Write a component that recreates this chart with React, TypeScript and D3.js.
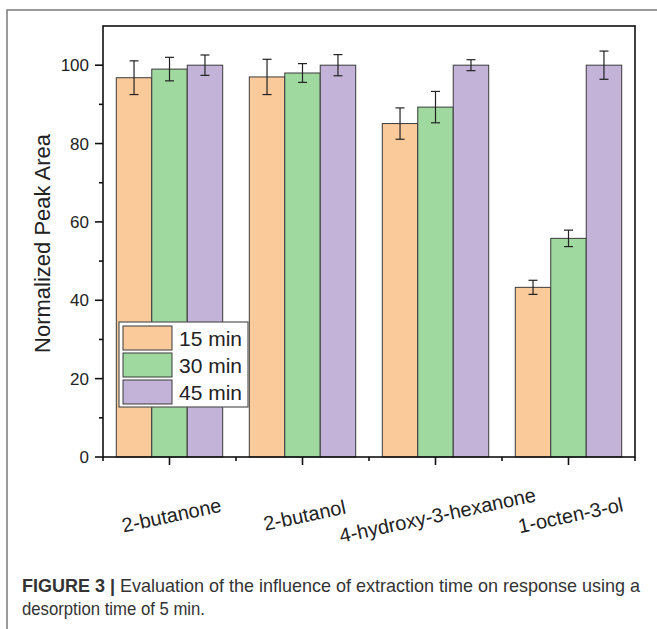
import * as d3 from "d3"

const compounds = ["2-butanone", "2-butanol", "4-hydroxy-3-hexanone", "1-octen-3-ol"]
const seriesNames = ["15 min", "30 min", "45 min"]
const min15 = [96.8, 97.0, 85.1, 43.3]
const min15Err = [4.3, 4.5, 4.0, 1.8]
const min30 = [99.0, 98.0, 89.3, 55.8]
const min30Err = [3.0, 2.4, 4.0, 2.1]
const min45 = [100, 100, 100, 100]
const min45Err = [2.6, 2.7, 1.4, 3.6]
const yTicks = [0, 20, 40, 60, 80, 100]
const yMinorTicks = [10, 30, 50, 70, 90]
const colors = ["#FBCA9B", "#A0D9A0", "#C3B3D8"]

const W = 657
const H = 629
const margin = { top: 26, right: 22, bottom: 172, left: 103 }

export default function App() {
  const x = d3
    .scaleLinear()
    .domain([0.5, compounds.length + 0.5])
    .range([margin.left, W - margin.right])
  const y = d3
    .scaleLinear()
    .domain([0, 110])
    .range([H - margin.bottom, margin.top])

  const groupWidth = (x(2) - x(1)) * 0.8
  const xb = d3
    .scaleBand()
    .domain(seriesNames)
    .range([-groupWidth / 2, groupWidth / 2])
    .padding(0)

  const series = [
    { name: seriesNames[0], values: min15, errs: min15Err },
    { name: seriesNames[1], values: min30, errs: min30Err },
    { name: seriesNames[2], values: min45, errs: min45Err },
  ]

  const [x0, x1] = x.range()
  const [yBottom, yTop] = y.range()
  const font = "Arial, 'Liberation Sans', Helvetica, sans-serif"
  const capFont = "'Liberation Sans Narrow', 'Arial Narrow', Arial, sans-serif"

  return (
    <svg width={W} height={H} style={{ position: "absolute", left: 0, top: 0, background: "#fff" }}>
      {/* outer frame */}
      <path d={`M7,${H} V10 H${W}`} fill="none" stroke="#7a7a7a" strokeWidth={1.5} />

      {/* bars */}
      {series.map((s, si) =>
        compounds.map((c, ci) => {
          const bx = x(ci + 1) + (xb(s.name) as number)
          const bw = xb.bandwidth()
          const cx = bx + bw / 2
          return (
            <g key={`${si}-${ci}`}>
              <rect
                x={bx}
                y={y(s.values[ci])}
                width={bw}
                height={y(0) - y(s.values[ci])}
                fill={colors[si]}
                stroke="#3a3a3a"
                strokeWidth={1}
              />
              <g stroke="#222" strokeWidth={1.2} fill="none">
                <line x1={cx} x2={cx} y1={y(s.values[ci] + s.errs[ci])} y2={y(s.values[ci] - s.errs[ci])} />
                <line x1={cx - 4.5} x2={cx + 4.5} y1={y(s.values[ci] + s.errs[ci])} y2={y(s.values[ci] + s.errs[ci])} />
                <line x1={cx - 4.5} x2={cx + 4.5} y1={y(s.values[ci] - s.errs[ci])} y2={y(s.values[ci] - s.errs[ci])} />
              </g>
            </g>
          )
        }),
      )}

      {/* plot box */}
      <rect x={x0} y={yTop} width={x1 - x0} height={yBottom - yTop} fill="none" stroke="#111" strokeWidth={1.6} />

      {/* y axis */}
      {yTicks.map((t) => (
        <g key={`yt${t}`}>
          <line x1={x0 - 8} x2={x0} y1={y(t)} y2={y(t)} stroke="#111" strokeWidth={1.6} />
          <text x={x0 - 14} y={y(t)} dy="0.36em" textAnchor="end" fontFamily={font} fontSize={17} fill="#222">
            {t}
          </text>
        </g>
      ))}
      {yMinorTicks.map((t) => (
        <line key={`ym${t}`} x1={x0 - 4} x2={x0} y1={y(t)} y2={y(t)} stroke="#111" strokeWidth={1.6} />
      ))}
      <text
        transform={`translate(42, ${(yTop + yBottom) / 2 + 2}) rotate(-90)`}
        dy="0.36em"
        textAnchor="middle"
        fontFamily={font}
        fontSize={22}
        fill="#222"
      >
        Normalized Peak Area
      </text>

      {/* x axis */}
      {compounds.map((c, i) => (
        <g key={c}>
          <line x1={x(i + 1)} x2={x(i + 1)} y1={yBottom} y2={yBottom + 8} stroke="#111" strokeWidth={1.6} />
          <text
            transform={`translate(${x(i + 1) + 2}, ${yBottom + 58}) rotate(-12)`}
            dy="0.36em"
            textAnchor="middle"
            fontFamily={font}
            fontSize={20}
            fill="#222"
          >
            {c}
          </text>
        </g>
      ))}
      {d3.range(0.5, compounds.length + 1, 1).map((t) => (
        <line key={`xm${t}`} x1={x(t)} x2={x(t)} y1={yBottom} y2={yBottom + 4} stroke="#111" strokeWidth={1.6} />
      ))}

      {/* legend */}
      <g transform="translate(119, 322)">
        <rect x={0} y={0} width={129} height={85} fill="#fff" stroke="#555" strokeWidth={1.2} />
        {seriesNames.map((n, i) => (
          <g key={n} transform={`translate(4, ${4 + i * 27})`}>
            <rect width={49} height={24} fill={colors[i]} stroke="#3a3a3a" strokeWidth={1} />
            <text x={56} y={12} dy="0.36em" fontFamily={font} fontSize={21} fill="#222">
              {n}
            </text>
          </g>
        ))}
      </g>

      {/* caption */}
      <text x={22} y={592} fontFamily={capFont} fontSize={18.5} fill="#333" textLength={618} lengthAdjust="spacingAndGlyphs">
        <tspan fontWeight="bold">FIGURE 3 | </tspan>
        <tspan>Evaluation of the influence of extraction time on response using a</tspan>
      </text>
      <text x={22} y={615} fontFamily={capFont} fontSize={18.5} fill="#333" textLength={183} lengthAdjust="spacingAndGlyphs">
        desorption time of 5 min.
      </text>
    </svg>
  )
}
